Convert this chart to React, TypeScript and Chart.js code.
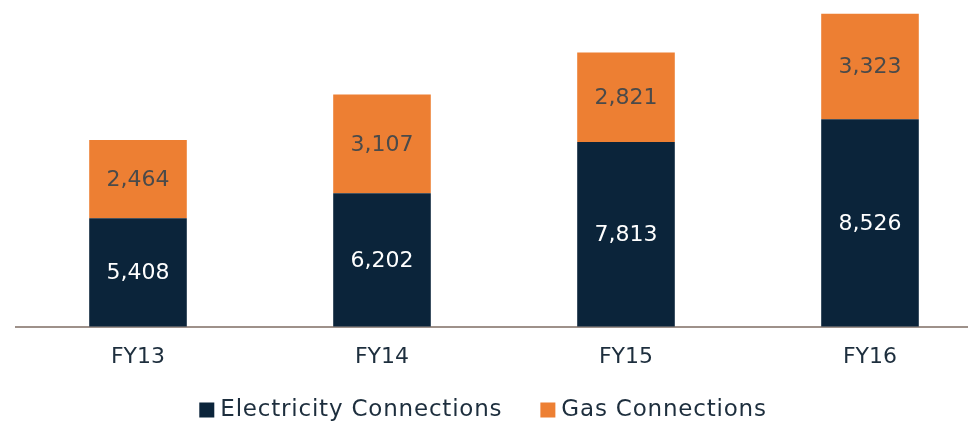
import React, { useEffect, useRef } from "react";
import { Chart, registerables } from "chart.js";

Chart.register(...registerables);

const categories = ["FY13", "FY14", "FY15", "FY16"];
const electricity = [5408, 6202, 7813, 8526];
const gas = [2464, 3107, 2821, 3323];
const seriesNames = ["Electricity Connections", "Gas Connections"];

const NAVY = "#0b243a";
const ORANGE = "#ed7f33";
const TEXT = "#1d2e3d";
const FONT = "'DejaVu Sans', sans-serif";
const CANVAS_SHIFT = 24;

const valueLabels = {
  id: "valueLabels",
  afterDatasetsDraw(chart: any) {
    const ctx = chart.ctx;
    const area = chart.chartArea;
    ctx.save();
    ctx.font = `22px ${FONT}`;
    ctx.textAlign = "center";
    ctx.textBaseline = "middle";
    chart.data.datasets.forEach((ds: any, di: number) => {
      const meta = chart.getDatasetMeta(di);
      meta.data.forEach((bar: any, i: number) => {
        const top = Math.max(bar.y, area.top);
        const bottom = Math.min(bar.base, area.bottom);
        ctx.fillStyle = di === 0 ? "#ffffff" : "#4a4a4a";
        ctx.fillText((ds.data[i] as number).toLocaleString("en-US"), bar.x, (top + bottom) / 2 + 1);
      });
    });
    ctx.restore();
  },
};

const customLegend = {
  id: "customLegend",
  afterDraw(chart: any) {
    const ctx = chart.ctx;
    ctx.save();
    ctx.font = `23px ${FONT}`;
    try { (ctx as any).letterSpacing = "0.8px"; } catch (e) {}
    ctx.textBaseline = "middle";
    ctx.textAlign = "left";
    const box = 15;
    const gap = 6;
    const spacing = 38;
    const items = chart.data.datasets.map((ds: any) => ({
      label: ds.label,
      color: ds.backgroundColor,
      w: ctx.measureText(ds.label).width,
    }));
    const total = items.reduce((s: number, it: any) => s + box + gap + it.w, 0) + spacing * (items.length - 1);
    const center = 483 + CANVAS_SHIFT;
    let x = center - total / 2;
    const y = 410;
    items.forEach((it: any) => {
      ctx.fillStyle = it.color;
      ctx.fillRect(x, y - box / 2, box, box);
      x += box + gap;
      ctx.fillStyle = TEXT;
      ctx.fillText(it.label, x, y);
      x += it.w + spacing;
    });
    ctx.restore();
  },
};

export default function App() {
  const ref = useRef<HTMLCanvasElement>(null);
  useEffect(() => {
    const chart = new Chart(ref.current!, {
      type: "bar",
      data: {
        labels: categories,
        datasets: [
          { label: seriesNames[0], data: electricity, backgroundColor: NAVY },
          { label: seriesNames[1], data: gas, backgroundColor: ORANGE },
        ],
      },
      options: {
        animation: false,
        responsive: false,
        maintainAspectRatio: false,
        layout: { padding: { left: 40, right: 0, top: 9, bottom: 42 } },
        datasets: { bar: { barPercentage: 0.4, categoryPercentage: 1 } },
        scales: {
          x: {
            stacked: true,
            grid: { display: false },
            border: { display: true, color: "#9e918a", width: 2 },
            ticks: { color: TEXT, font: { family: FONT, size: 22 }, padding: 9 },
          },
          y: { stacked: true, display: false, min: 2000, max: 12000 },
        },
        plugins: {
          tooltip: { enabled: false },
          legend: { display: false },
        },
      },
      plugins: [valueLabels, customLegend],
    });
    return () => chart.destroy();
  }, []);
  return (
    <div style={{ position: "fixed", left: 0, top: 0, width: 968, height: 421, overflow: "hidden", background: "#fff" }}>
      <canvas ref={ref} width={1016} height={421} style={{ position: "absolute", left: -CANVAS_SHIFT, top: 0, width: 1016, height: 421 }} />
    </div>
  );
}
